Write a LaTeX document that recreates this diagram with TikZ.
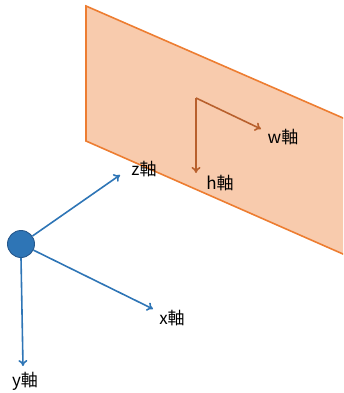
\documentclass[tikz,border=0pt]{standalone}
\usepackage{fontspec}
\setmainfont{Noto Sans CJK JP}
\usetikzlibrary{arrows.meta}
\definecolor{planefill}{RGB}{248,203,173}
\definecolor{planeedge}{RGB}{237,125,49}
\definecolor{brownax}{RGB}{184,96,45}
\definecolor{blueax}{RGB}{46,117,182}
\definecolor{bluedark}{RGB}{38,88,140}
\tikzset{
  axblue/.style={draw=blueax, line width=1.6pt, -{To[length=6pt,width=9pt]}},
  axbrown/.style={draw=brownax, line width=1.6pt, -{To[length=6pt,width=9pt]}},
  lab/.style={font=\fontsize{17}{20}\selectfont, text=black, inner sep=0pt}
}
\begin{document}
\begin{tikzpicture}[x=1pt,y=1pt]
\useasboundingbox (0,0) rectangle (343,-393);
\clip (0,0) rectangle (343,-393);
% plane
\draw[fill=planefill, draw=planeedge, line width=1.6pt]
  (86,-6) -- (360,-125.4) -- (360,-261.5) -- (86,-141) -- cycle;
% brown axes on plane
\coordinate (p0) at (196,-98);
\coordinate (hend) at (196,-173);
\coordinate (wend) at (261,-129);
\draw[axbrown] (p0) -- (hend);
\draw[axbrown] (p0) -- (wend);
\node[lab] (wl) at (283,-137) {w軸};
\node[lab] (hl) at (220,-183) {h軸};
% origin
\node[circle, fill=blueax, draw=bluedark, line width=0.9pt, minimum size=27pt, inner sep=0pt] (o) at (21,-244) {};
\coordinate (zend) at (120,-175);
\coordinate (xend) at (153,-309);
\coordinate (yend) at (23,-366);
\draw[axblue] (o) -- (zend);
\draw[axblue] (o) -- (xend);
\draw[axblue] (o.south) -- (yend);
\node[lab] (zl) at (144,-169) {z軸};
\node[lab] (xl) at (172,-318) {x軸};
\node[lab] (yl) at (25,-381) {y軸};
\end{tikzpicture}
\end{document}
